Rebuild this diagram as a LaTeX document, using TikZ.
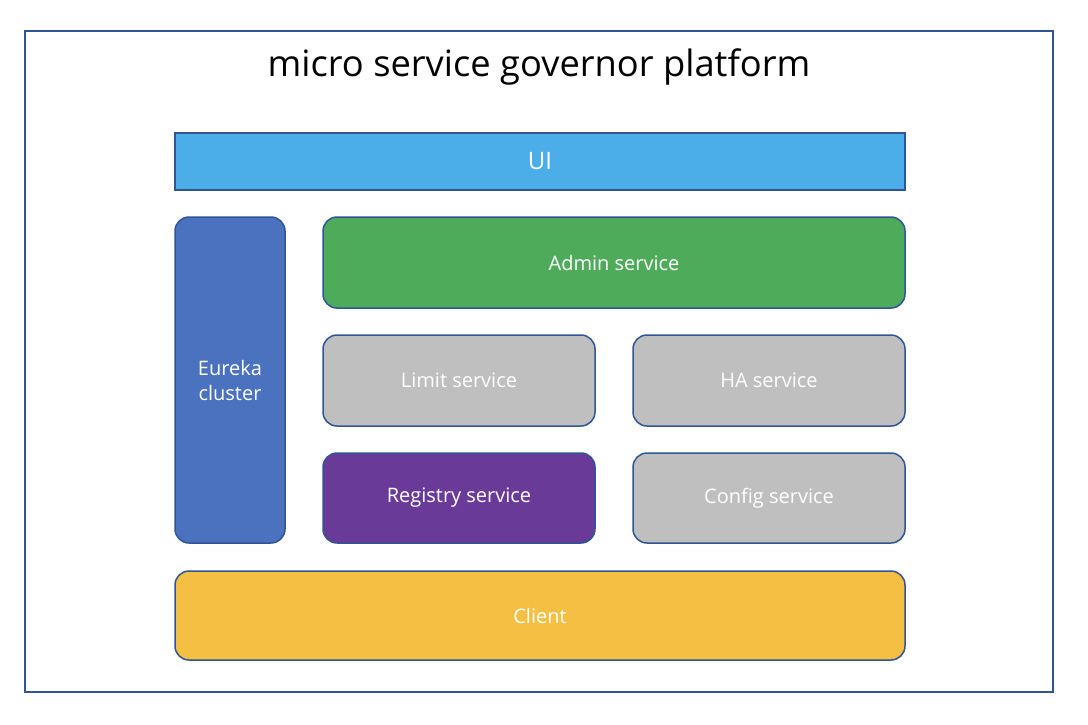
\documentclass[tikz,border=0pt]{standalone}
\usepackage{fontspec}
\setmainfont{Open Sans}
\definecolor{borde}{HTML}{2F5597}
\definecolor{azulclaro}{HTML}{4BAEE8}
\definecolor{azul}{HTML}{4A72BE}
\definecolor{verde}{HTML}{4EAB5A}
\definecolor{gris}{HTML}{BFBFBF}
\definecolor{morado}{HTML}{6A3A99}
\definecolor{amarillo}{HTML}{F4BF42}
\tikzset{
    caja/.style={draw=borde, line width=1.5pt, rounded corners=14pt, text=white,
        font=\fontsize{20}{25}\selectfont, align=center, inner sep=0pt}
}
\begin{document}
\begin{tikzpicture}[x=1pt, y=-1pt]
    \useasboundingbox (0,0) rectangle (1088,724);
    % Marco
    \draw[borde, line width=1.5pt] (25,31) rectangle (1053,692);
    \node (titulo) at (539,67) {\fontsize{36.3}{41}\selectfont micro service governor platform};

    % Capas
    \node[caja, rounded corners=0pt, fill=azulclaro, minimum width=730pt, minimum height=57pt,
        font=\fontsize{24}{28}\selectfont] (ui) at (540,161.5) {UI};
    \node[caja, fill=azul, minimum width=110pt, minimum height=326pt] (eureka) at (230,380) {Eureka\\cluster};
    \node[caja, fill=verde, minimum width=582pt, minimum height=91pt] (admin) at (614,262.5) {Admin service};
    \node[caja, fill=gris, minimum width=272pt, minimum height=91pt] (limit) at (459,380.5) {Limit service};
    \node[caja, fill=gris, minimum width=272pt, minimum height=91pt] (ha) at (769,380.5) {HA service};
    \node[caja, fill=morado, minimum width=272pt, minimum height=90pt] (registry) at (459,498) {Registry service};
    \node[caja, fill=gris, minimum width=272pt, minimum height=90pt] (config) at (769,498) {Config service};
    \node[caja, fill=amarillo, minimum width=730pt, minimum height=89pt] (client) at (540,615.5) {Client};
\end{tikzpicture}
\end{document}
